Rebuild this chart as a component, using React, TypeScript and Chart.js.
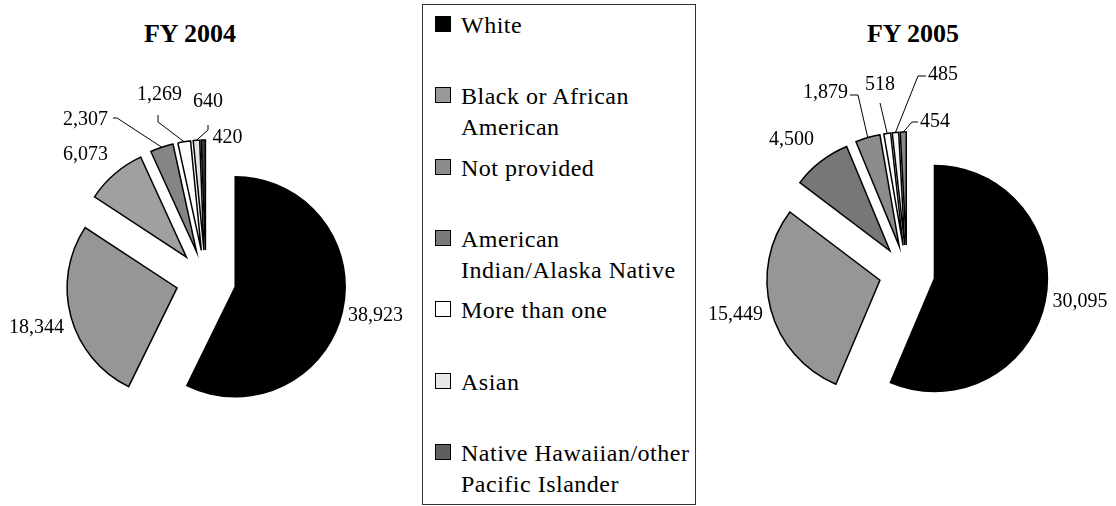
import React, { useEffect, useRef } from 'react';
import { Chart, registerables } from 'chart.js';

Chart.register(...registerables);

// ---------- data ----------
const categories = [
  'White',
  'Black or African\nAmerican',
  'Not provided',
  'American\nIndian/Alaska Native',
  'More than one',
  'Asian',
  'Native Hawaiian/other\nPacific Islander',
];
const fy2004Values = [38923, 18344, 6073, 2307, 1269, 640, 420];
const fy2005Values = [30095, 15449, 4500, 1879, 518, 485, 454];
const chartTitles = ['FY 2004', 'FY 2005'];

// ---------- styles ----------
const fy2004Colors = ['#000000', '#969696', '#a0a0a0', '#858585', '#ffffff', '#e4e4e4', '#3a3a3a'];
const fy2005Colors = ['#000000', '#969696', '#777777', '#8c8c8c', '#ffffff', '#f6f6f6', '#8a8a8a'];
const legendColors = ['#000000', '#999999', '#8c8c8c', '#7a7a7a', '#ffffff', '#e8e8e8', '#5f5f5f'];

const SERIF = '"Liberation Serif", "Times New Roman", serif';

type LabelSpot = { dx: number; dy: number; leader?: [number, number][] };

// label centres relative to the pie centre, with optional leader-line start/elbow points
const labelSpots2004: LabelSpot[] = [
  { dx: 169.5, dy: 36 },
  { dx: -169.5, dy: 48 },
  { dx: -120.5, dy: -125 },
  { dx: -120.5, dy: -160, leader: [[-93, -162], [-89, -162]] },
  { dx: -46.5, dy: -185, leader: [[-48, -165], [-48, -158]] },
  { dx: 2, dy: -178, leader: [[2, -155], [2, -150]] },
  { dx: 21.5, dy: -142 },
];
const labelSpots2005: LabelSpot[] = [
  { dx: 173, dy: 29 },
  { dx: -171.5, dy: 42 },
  { dx: -115.5, dy: -133 },
  { dx: -81.5, dy: -180, leader: [[-57, -178], [-49, -178]] },
  { dx: -27, dy: -188, leader: [[-27, -170]] },
  { dx: 36, dy: -198, leader: [[19, -197], [11, -197]] },
  { dx: 28, dy: -151, leader: [[11, -151], [5, -151]] },
];

// Explode every slice by the same distance (without Chart.js's offset shrinking),
// then draw value labels with leader lines.
const sliceLabelPlugin = {
  id: 'sliceLabels',
  beforeDatasetsDraw(chart: any, _args: any, opts: any) {
    const meta = chart.getDatasetMeta(0);
    const explode = opts.explode || 0;
    meta.data.forEach((arc: any) => {
      if (arc.$exploded) return;
      const proto = Object.getPrototypeOf(arc);
      arc.draw = function (ctx: CanvasRenderingContext2D, area: any) {
        const mid = (this.startAngle + this.endAngle) / 2;
        ctx.save();
        ctx.translate(Math.cos(mid) * explode, Math.sin(mid) * explode);
        proto.draw.call(this, ctx, area);
        ctx.restore();
      };
      arc.$exploded = true;
    });
  },
  afterDatasetsDraw(chart: any, _args: any, opts: any) {
    const spots: LabelSpot[] = opts.spots || [];
    const explode = opts.explode || 0;
    const meta = chart.getDatasetMeta(0);
    const values: number[] = chart.data.datasets[0].data;
    const ctx = chart.ctx;
    ctx.save();
    ctx.font = opts.font;
    ctx.fillStyle = '#000';
    ctx.strokeStyle = '#000';
    ctx.lineWidth = 1;
    ctx.textAlign = 'center';
    ctx.textBaseline = 'middle';
    meta.data.forEach((arc: any, i: number) => {
      const p = arc.getProps(['x', 'y', 'startAngle', 'endAngle', 'outerRadius'], true);
      const mid = (p.startAngle + p.endAngle) / 2;
      const ox = p.x + Math.cos(mid) * (explode + p.outerRadius);
      const oy = p.y + Math.sin(mid) * (explode + p.outerRadius);
      const spot = spots[i];
      if (!spot) return;
      if (spot.leader && spot.leader.length) {
        ctx.beginPath();
        ctx.moveTo(p.x + spot.leader[0][0], p.y + spot.leader[0][1]);
        for (let k = 1; k < spot.leader.length; k++) {
          ctx.lineTo(p.x + spot.leader[k][0], p.y + spot.leader[k][1]);
        }
        ctx.lineTo(ox, oy);
        ctx.stroke();
      }
      ctx.fillText(values[i].toLocaleString('en-US'), p.x + spot.dx, p.y + spot.dy);
    });
    ctx.restore();
  },
};

type PieProps = {
  values: number[];
  colors: string[];
  spots: LabelSpot[];
  radius: number;
  explode: number;
  width: number;
  height: number;
  padding: { left: number; right: number; top: number; bottom: number };
  style: React.CSSProperties;
};

function ExplodedPie(props: PieProps) {
  const ref = useRef<HTMLCanvasElement | null>(null);
  useEffect(() => {
    if (!ref.current) return;
    const chart = new Chart(ref.current, {
      type: 'pie',
      data: {
        labels: categories.map((c) => c.replace('\n', ' ')),
        datasets: [
          {
            data: props.values,
            backgroundColor: props.colors,
            borderColor: '#000',
            borderWidth: 1.5,
            borderJoinStyle: 'miter',
            offset: 0,
          } as any,
        ],
      },
      options: {
        responsive: false,
        animation: false,
        events: [],
        radius: props.radius,
        layout: { padding: props.padding },
        plugins: {
          legend: { display: false },
          tooltip: { enabled: false },
          title: { display: false },
          sliceLabels: { spots: props.spots, explode: props.explode, font: `20px ${SERIF}` },
        } as any,
      } as any,
      plugins: [sliceLabelPlugin],
    });
    return () => chart.destroy();
  }, []);
  return (
    <canvas
      ref={ref}
      width={props.width}
      height={props.height}
      style={{ position: 'absolute', ...props.style, width: props.width, height: props.height }}
    />
  );
}

function Legend() {
  return (
    <div
      style={{
        position: 'absolute',
        left: 422,
        top: 4,
        width: 274,
        height: 501,
        boxSizing: 'border-box',
        border: '1px solid #333',
        fontFamily: SERIF,
        fontSize: 24,
        letterSpacing: '0.5px',
        lineHeight: '31px',
        color: '#000',
      }}
    >
      {categories.map((c, i) => (
        <div key={c} style={{ position: 'absolute', left: 0, top: 5 + i * 71.3, width: '100%' }}>
          <div
            style={{
              position: 'absolute',
              left: 12,
              top: 6,
              width: 16,
              height: 16,
              boxSizing: 'border-box',
              background: legendColors[i],
              border: '1.5px solid #000',
            }}
          />
          <div style={{ position: 'absolute', left: 38, top: 0, whiteSpace: 'pre', fontFamily: SERIF }}>{c}</div>
        </div>
      ))}
    </div>
  );
}

const titleStyle: React.CSSProperties = {
  position: 'absolute',
  top: 21,
  width: 200,
  textAlign: 'center',
  fontFamily: SERIF,
  fontWeight: 'bold',
  fontSize: 26,
  lineHeight: '26px',
  color: '#000',
};

export default function App() {
  return (
    <div style={{ position: 'fixed', left: 0, top: 0, width: 1116, height: 506, background: '#fff', overflow: 'hidden' }}>
      <div style={{ ...titleStyle, left: 90 }}>{chartTitles[0]}</div>
      <div style={{ ...titleStyle, left: 813 }}>{chartTitles[1]}</div>
      <ExplodedPie
        values={fy2004Values}
        colors={fy2004Colors}
        spots={labelSpots2004}
        radius={110}
        explode={30}
        width={420}
        height={506}
        padding={{ left: 0, right: 8, top: 54, bottom: 0 }}
        style={{ left: 0, top: 0 }}
      />
      <Legend />
      <ExplodedPie
        values={fy2005Values}
        colors={fy2005Colors}
        spots={labelSpots2005}
        radius={113}
        explode={28}
        width={416}
        height={506}
        padding={{ left: 0, right: 2, top: 40, bottom: 0 }}
        style={{ left: 700, top: 0 }}
      />
    </div>
  );
}
